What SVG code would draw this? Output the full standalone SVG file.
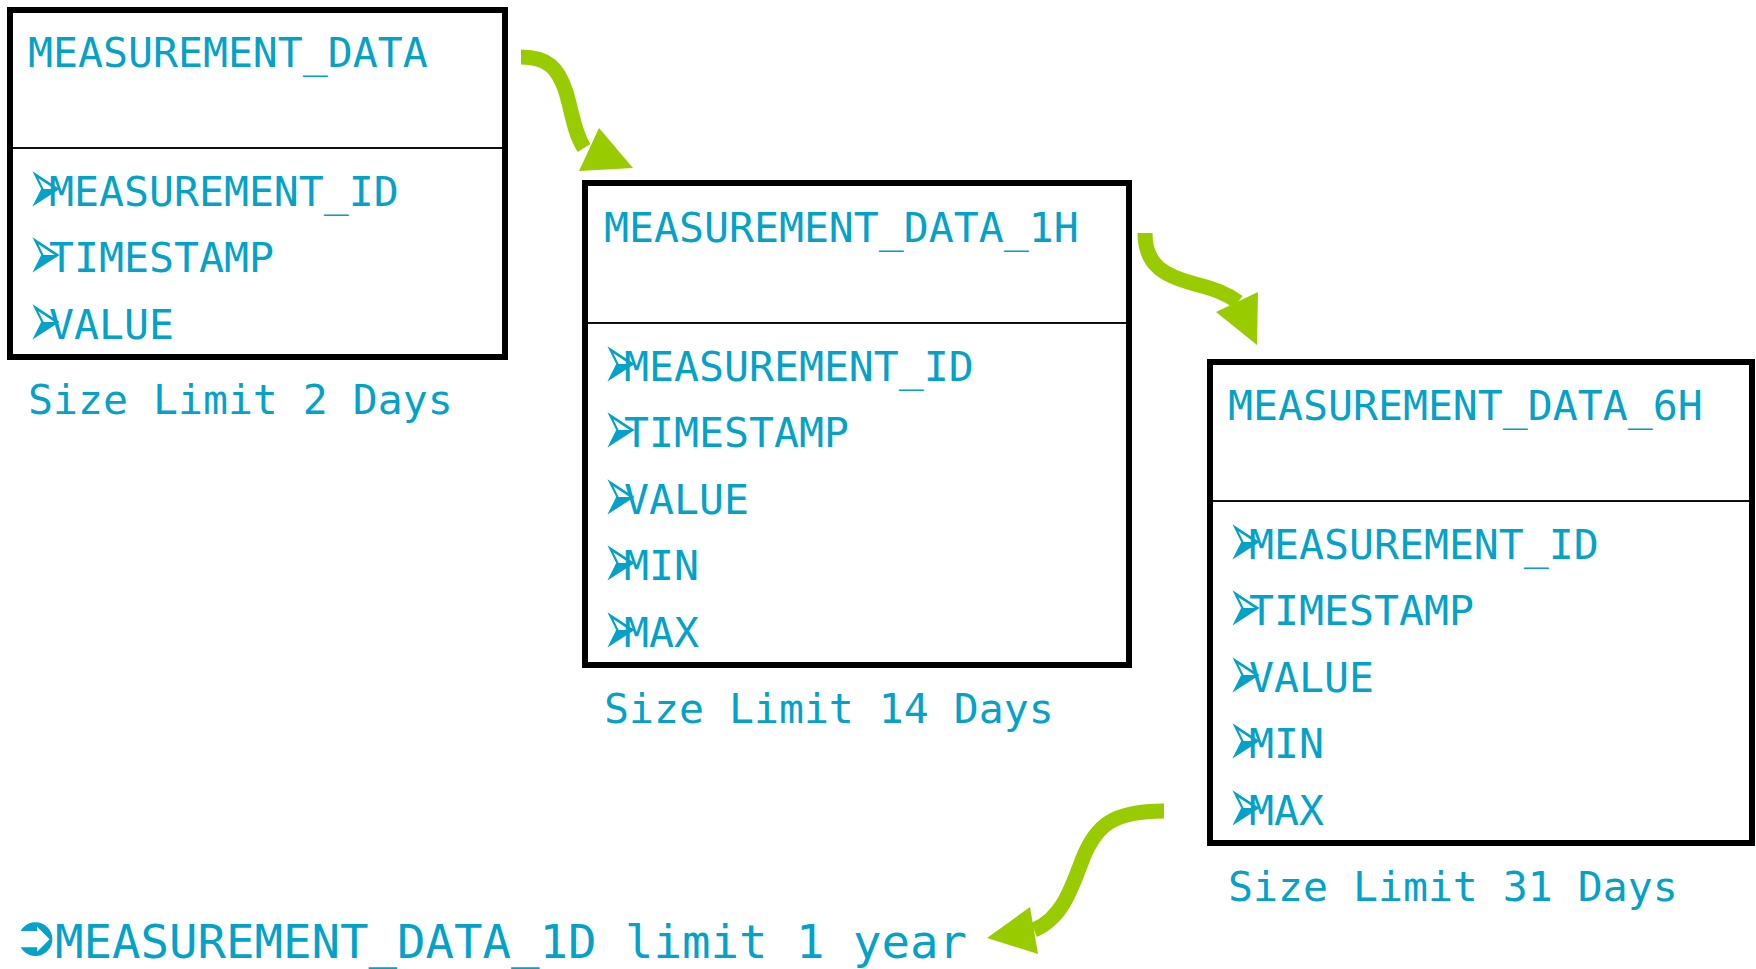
<svg xmlns="http://www.w3.org/2000/svg" width="1756" height="969" viewBox="0 0 1756 969">
  <style>
    .box { fill: #ffffff; stroke: #000000; stroke-width: 6; }
    .sep { stroke: #111111; stroke-width: 2; }
    .txt { font-family: "DejaVu Sans Mono", "Liberation Mono", monospace; font-size: 41.5px; fill: #04a2c8; }
    .bul { font-family: "DejaVu Sans", "Noto Sans", sans-serif; font-size: 50px; fill: #04a2c8; }
    .flow { fill: none; stroke: #99cc00; stroke-width: 15; }
    .head { fill: #99cc00; }
  </style>

  <!-- table: raw measurements -->
  <g id="measurement_data">
    <rect class="box" x="10" y="10" width="495" height="347"/>
    <line class="sep" x1="13" y1="148" x2="502" y2="148"/>
    <text class="txt" x="28" y="67">MEASUREMENT_DATA</text>
    <text class="bul" transform="translate(28,214) scale(0.8,1.6)">➢</text><text class="txt" x="49" y="206">MEASUREMENT_ID</text>
    <text class="bul" transform="translate(28,280) scale(0.8,1.6)">➢</text><text class="txt" x="49" y="272">TIMESTAMP</text>
    <text class="bul" transform="translate(28,347) scale(0.8,1.6)">➢</text><text class="txt" x="49" y="339">VALUE</text>
    <text class="txt" x="28" y="414">Size Limit 2 Days</text>
  </g>

  <!-- table: hourly aggregates -->
  <g id="measurement_data_1h">
    <rect class="box" x="585" y="183" width="544" height="482"/>
    <line class="sep" x1="588" y1="323" x2="1126" y2="323"/>
    <text class="txt" x="604" y="242">MEASUREMENT_DATA_1H</text>
    <text class="bul" transform="translate(603,389) scale(0.8,1.6)">➢</text><text class="txt" x="624" y="381">MEASUREMENT_ID</text>
    <text class="bul" transform="translate(603,455) scale(0.8,1.6)">➢</text><text class="txt" x="624" y="447">TIMESTAMP</text>
    <text class="bul" transform="translate(603,522) scale(0.8,1.6)">➢</text><text class="txt" x="624" y="514">VALUE</text>
    <text class="bul" transform="translate(603,588) scale(0.8,1.6)">➢</text><text class="txt" x="624" y="580">MIN</text>
    <text class="bul" transform="translate(603,655) scale(0.8,1.6)">➢</text><text class="txt" x="624" y="647">MAX</text>
    <text class="txt" x="604" y="723">Size Limit 14 Days</text>
  </g>

  <!-- table: six-hour aggregates -->
  <g id="measurement_data_6h">
    <rect class="box" x="1210" y="362" width="542" height="481"/>
    <line class="sep" x1="1213" y1="501" x2="1749" y2="501"/>
    <text class="txt" x="1228" y="420">MEASUREMENT_DATA_6H</text>
    <text class="bul" transform="translate(1228,567) scale(0.8,1.6)">➢</text><text class="txt" x="1249" y="559">MEASUREMENT_ID</text>
    <text class="bul" transform="translate(1228,633) scale(0.8,1.6)">➢</text><text class="txt" x="1249" y="625">TIMESTAMP</text>
    <text class="bul" transform="translate(1228,700) scale(0.8,1.6)">➢</text><text class="txt" x="1249" y="692">VALUE</text>
    <text class="bul" transform="translate(1228,766) scale(0.8,1.6)">➢</text><text class="txt" x="1249" y="758">MIN</text>
    <text class="bul" transform="translate(1228,833) scale(0.8,1.6)">➢</text><text class="txt" x="1249" y="825">MAX</text>
    <text class="txt" x="1228" y="901">Size Limit 31 Days</text>
  </g>

  <!-- daily table note with circled-arrow marker -->
  <g id="measurement_data_1d">
    <text class="bul" x="12" y="955" style="font-size:56px">➲</text>
    <text class="txt" x="55" y="958" style="font-size:46px" textLength="912" lengthAdjust="spacingAndGlyphs">MEASUREMENT_DATA_1D limit 1 year</text>
  </g>

  <!-- roll-up arrows between tables -->
  <g id="connectors">
    <path class="flow" d="M521,57 C548,57 558,68 566,92 C572,112 574,132 584,148"/>
    <polygon class="head" points="599,128 633,168 579,171"/>
    <path class="flow" d="M1145,233 C1145,266 1165,276 1195,284 C1214,289 1226,293 1238,302"/>
    <polygon class="head" points="1258,292 1257,345 1216,312"/>
    <path class="flow" d="M1164,811 C1112,811 1096,826 1083,858 C1071,890 1062,918 1034,930"/>
    <polygon class="head" points="1030,907 987,938 1038,954"/>
  </g>
</svg>
